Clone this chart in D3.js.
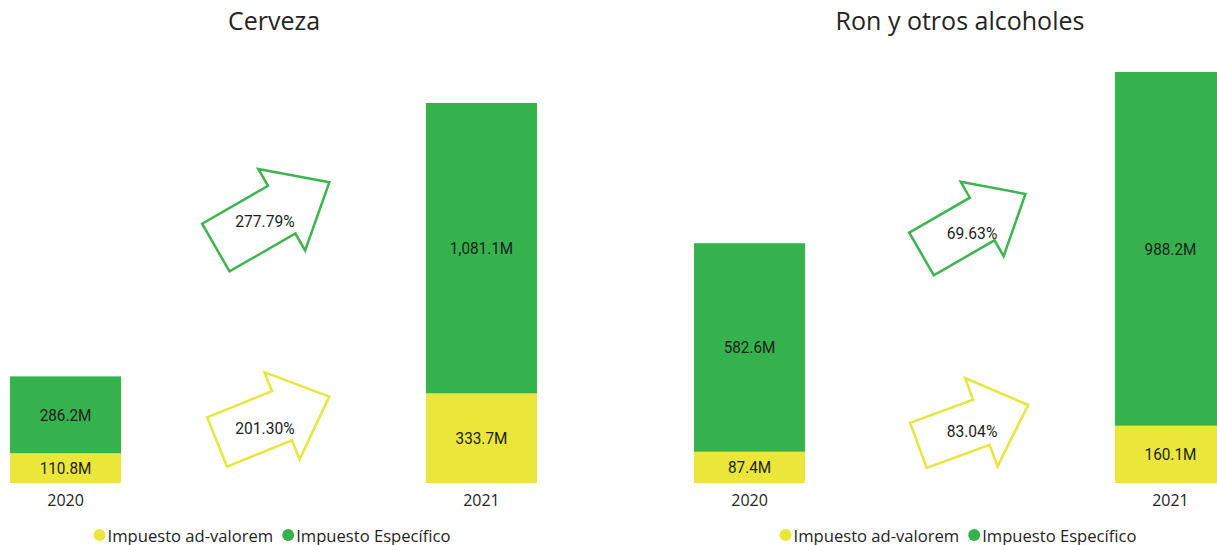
<!DOCTYPE html>
<html>
<head>
<meta charset="utf-8">
<script src="https://cdn.jsdelivr.net/npm/d3@7/dist/d3.min.js"></script>
<style>
  html, body { margin: 0; padding: 0; background: #ffffff; overflow: hidden; }
  svg { display: block; }
</style>
</head>
<body>
<svg id="chart" width="1217" height="545"></svg>
<script>
// ---- data ----
const panelTitles = ["Cerveza", "Ron y otros alcoholes"];
const years = ["2020", "2021"];
const seriesNames = ["Impuesto ad-valorem", "Impuesto Específico"];
const cervezaAdValorem = [110.8, 333.7];
const cervezaEspecifico = [286.2, 1081.1];
const ronAdValorem = [87.4, 160.1];
const ronEspecifico = [582.6, 988.2];
const cervezaGrowth = ["201.30%", "277.79%"];   // [ad-valorem, específico]
const ronGrowth = ["83.04%", "69.63%"];

// ---- style / layout ----
const colors = ["#EAE73A", "#35B24D"];
const arrowColors = ["#E8E53F", "#3DB54F"];
const textColor = "#252423";
const baseY = 483;

const panels = [
  { title: panelTitles[0], adv: cervezaAdValorem, esp: cervezaEspecifico, growth: cervezaGrowth,
    xRange: [10, 537], pad: 0.733, yTop: 103, center: 274, legendCenter: 272,
    arrows: [ // yellow then green
      { cx: 273.2, cy: 419.3, ang: -22, L: 121, w: 26.5, h: 47, hl: 51, tx: 265, ty: 428 },
      { cx: 272.6, cy: 214.9, ang: -29.9, L: 131, w: 27.5, h: 47, hl: 55, tx: 265, ty: 221 }
    ] },
  { title: panelTitles[1], adv: ronAdValorem, esp: ronEspecifico, growth: ronGrowth,
    xRange: [694, 1226], pad: 0.736, yTop: 72, center: 960, legendCenter: 958,
    arrows: [
      { cx: 973.3, cy: 425.2, ang: -20.2, L: 117, w: 24, h: 47, hl: 50, tx: 972, ty: 431 },
      { cx: 973.5, cy: 224, ang: -30, L: 120, w: 24.6, h: 43, hl: 50, tx: 972, ty: 233 }
    ] }
];

const svg = d3.select("#chart");
const fmt = v => d3.format(",.1f")(v) + "M";

panels.forEach(p => {
  const g = svg.append("g");
  const x = d3.scaleBand().domain(years).range(p.xRange).paddingInner(p.pad).paddingOuter(0);
  const rows = years.map((yr, i) => ({ year: yr, adv: p.adv[i], esp: p.esp[i] }));
  const stack = d3.stack().keys(["adv", "esp"])(rows);
  const maxTotal = d3.max(rows, r => r.adv + r.esp);
  const y = d3.scaleLinear().domain([0, maxTotal]).range([baseY, p.yTop]);

  // title
  g.append("text").attr("x", p.center).attr("y", 30).attr("text-anchor", "middle")
    .attr("font-family", "'Open Sans', sans-serif").attr("font-size", 25)
    .attr("fill", textColor).text(p.title);

  // bars
  stack.forEach((layer, si) => {
    const lg = g.append("g");
    lg.selectAll("rect").data(layer).join("rect")
      .attr("x", d => x(d.data.year))
      .attr("width", x.bandwidth())
      .attr("y", d => y(d[1]))
      .attr("height", d => y(d[0]) - y(d[1]))
      .attr("fill", colors[si]);
    lg.selectAll("text").data(layer).join("text")
      .attr("transform", d => `translate(${x(d.data.year) + x.bandwidth() / 2},${(y(d[0]) + y(d[1])) / 2}) scale(0.9,1)`)
      .attr("text-anchor", "middle").attr("dominant-baseline", "central")
      .attr("font-family", "Roboto, sans-serif").attr("font-size", 17)
      .attr("fill", "#1e1e1e")
      .text(d => fmt(d[1] - d[0]));
  });

  // category axis labels
  const xAxis = d3.axisBottom(x).tickSize(0).tickPadding(0);
  const ax = g.append("g").attr("transform", `translate(0,${baseY})`).call(xAxis);
  ax.select(".domain").remove();
  ax.selectAll("text").attr("dy", null).attr("y", 23)
    .attr("font-family", "'Open Sans', sans-serif").attr("font-size", 16).attr("fill", textColor);

  // growth arrows
  p.arrows.forEach((a, ai) => {
    const L = a.L, w = a.w, h = a.h, hl = a.hl;
    const pts = [[-L/2, -w], [L/2 - hl, -w], [L/2 - hl, -h], [L/2, 0], [L/2 - hl, h], [L/2 - hl, w], [-L/2, w]];
    g.append("path")
      .attr("d", d3.line()(pts) + "Z")
      .attr("transform", `translate(${a.cx},${a.cy}) rotate(${a.ang})`)
      .attr("fill", "none").attr("stroke", arrowColors[ai]).attr("stroke-width", 2.5)
      .attr("stroke-linejoin", "miter");
    g.append("text")
      .attr("transform", `translate(${a.tx},${a.ty}) scale(0.92,1)`)
      .attr("text-anchor", "middle").attr("dominant-baseline", "central")
      .attr("font-family", "Roboto, sans-serif").attr("font-size", 17)
      .attr("fill", "#1e1e1e").text(p.growth[ai]);
  });

  // legend
  const leg = g.append("g");
  let cursor = 0;
  seriesNames.forEach((name, i) => {
    const it = leg.append("g");
    it.append("circle").attr("cx", cursor + 6).attr("cy", 535).attr("r", 6).attr("fill", colors[i]);
    const t = it.append("text").attr("x", cursor + 14).attr("y", 541.5)
      .attr("font-family", "'Open Sans', sans-serif").attr("font-size", 16.6)
      .attr("fill", textColor).text(name);
    cursor += 14 + t.node().getComputedTextLength() + 9;
  });
  const total = cursor - 9;
  leg.attr("transform", `translate(${p.legendCenter - total / 2},0)`);
});
</script>
</body>
</html>
